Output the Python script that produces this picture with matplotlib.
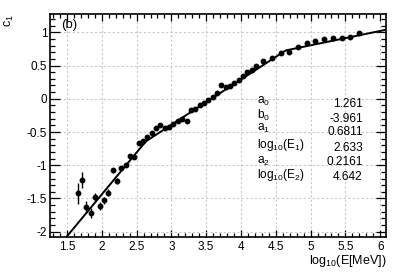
import numpy as np
import matplotlib
matplotlib.use("Agg")
import matplotlib.pyplot as plt
from matplotlib.ticker import MultipleLocator

plt.rcParams["font.family"] = ["Liberation Sans", "DejaVu Sans"]
plt.rcParams["mathtext.fontset"] = "custom"
plt.rcParams["mathtext.rm"] = "Liberation Sans"
plt.rcParams["mathtext.it"] = "Liberation Sans:italic"
plt.rcParams["mathtext.default"] = "regular"

# data points
log_e = [1.655, 1.718, 1.78, 1.843, 1.905, 1.968, 2.03, 2.093, 2.155, 2.218,
         2.28, 2.343, 2.405, 2.468, 2.53, 2.593, 2.655, 2.718, 2.78, 2.843,
         2.905, 2.968, 3.03, 3.093, 3.155, 3.218, 3.28, 3.343, 3.405, 3.468,
         3.53, 3.593, 3.655, 3.718, 3.78, 3.843, 3.905, 3.968, 4.03, 4.093,
         4.155, 4.218, 4.32, 4.44, 4.57, 4.695, 4.816, 4.945, 5.065, 5.194,
         5.319, 5.448, 5.567, 5.697]
c1 = [-1.425, -1.224, -1.626, -1.717, -1.476, -1.62, -1.53, -1.415, -1.078, -1.235,
      -1.04, -0.99, -0.858, -0.878, -0.672, -0.637, -0.572, -0.52, -0.44, -0.39,
      -0.446, -0.42, -0.38, -0.34, -0.31, -0.33, -0.17, -0.15, -0.10, -0.06,
      -0.02, 0.03, 0.08, 0.21, 0.17, 0.19, 0.24, 0.28, 0.34, 0.40,
      0.43, 0.50, 0.568, 0.608, 0.693, 0.708, 0.783, 0.843, 0.869, 0.894,
      0.909, 0.909, 0.925, 0.985]
c1_err = [0.16, 0.125, 0.09, 0.08, 0.06, 0.06, 0.05, 0.05, 0.04, 0.04,
          0.03, 0.03, 0.03, 0.03, 0.02, 0.02, 0.02, 0.02, 0.02, 0.02,
          0.02, 0.02, 0.02, 0.02, 0.02, 0.02, 0.02, 0.02, 0.02, 0.02,
          0.02, 0.02, 0.02, 0.02, 0.02, 0.02, 0.02, 0.02, 0.02, 0.02,
          0.02, 0.02, 0.02, 0.02, 0.02, 0.02, 0.02, 0.02, 0.02, 0.02,
          0.02, 0.02, 0.02, 0.02]

# fit parameters
a0, b0 = 1.261, -3.961
a1, log_e1 = 0.6811, 2.633
a2, log_e2 = 0.2161, 4.642

par_names = ["a$_0$", "b$_0$", "a$_1$", "log$_{10}$(E$_1$)", "a$_2$", "log$_{10}$(E$_2$)"]
par_values = ["1.261", "-3.961", "0.6811", "2.633", "0.2161", "4.642"]

XMIN, XMAX = 1.256, 6.083
YMIN, YMAX = -2.08, 1.276


def fit_func(x):
    y1 = a0 * log_e1 + b0
    y2 = y1 + a1 * (log_e2 - log_e1)
    return np.where(x < log_e1, a0 * x + b0,
                    np.where(x < log_e2, y1 + a1 * (x - log_e1),
                             y2 + a2 * (x - log_e2)))


def main():
    fig = plt.figure(figsize=(3.99, 2.73), dpi=100)
    ax = fig.add_axes([50 / 399, 36 / 273, 336 / 399, 223 / 273])

    ax.grid(True, color="#c8c8c8", linestyle=(0, (2, 2)), linewidth=0.8)
    ax.set_axisbelow(True)

    ax.errorbar(log_e, c1, yerr=c1_err, fmt="o", color="black",
                markersize=3.2, elinewidth=1, capsize=0)

    xs = np.linspace(XMIN, XMAX, 500)
    ax.plot(xs, fit_func(xs), color="black", linewidth=1.4)

    ax.set_xlim(XMIN, XMAX)
    ax.set_ylim(YMIN, YMAX)

    ax.xaxis.set_major_locator(MultipleLocator(0.5))
    ax.xaxis.set_minor_locator(MultipleLocator(0.1))
    ax.yaxis.set_major_locator(MultipleLocator(0.5))
    ax.yaxis.set_minor_locator(MultipleLocator(0.1))
    ax.xaxis.set_major_formatter(plt.FuncFormatter(lambda v, p: f"{v:g}"))
    ax.yaxis.set_major_formatter(plt.FuncFormatter(lambda v, p: f"{v:g}"))

    ax.tick_params(axis="both", which="both", direction="in",
                   top=True, right=True, labelsize=8.5, width=0.9)
    ax.tick_params(axis="x", which="major", length=5, pad=3)
    ax.tick_params(axis="x", which="minor", length=2.6)
    ax.tick_params(axis="y", which="major", length=7, pad=2)
    ax.tick_params(axis="y", which="minor", length=3.5)
    for s in ax.spines.values():
        s.set_linewidth(1.2)

    ax.set_xlabel("log$_{10}$(E[MeV])", fontsize=9, loc="right", labelpad=0)
    ax.set_ylabel("c$_1$", fontsize=9, loc="top", labelpad=8)

    ax.text(0.034, 0.95, "(b)", transform=ax.transAxes, fontsize=9.5,
            ha="left", va="center")

    label_y = [0.607, 0.545, 0.487, 0.413, 0.340, 0.279]
    value_y = [0.598, 0.528, 0.472, 0.398, 0.338, 0.268]
    for name, val, ly, vy in zip(par_names, par_values, label_y, value_y):
        ax.text(0.617, ly, name, transform=ax.transAxes, fontsize=8.6,
                ha="left", va="center")
        ax.text(0.931, vy, val, transform=ax.transAxes, fontsize=8.6,
                ha="right", va="center")

    fig.savefig("out.png", dpi=100)


if __name__ == "__main__":
    main()
